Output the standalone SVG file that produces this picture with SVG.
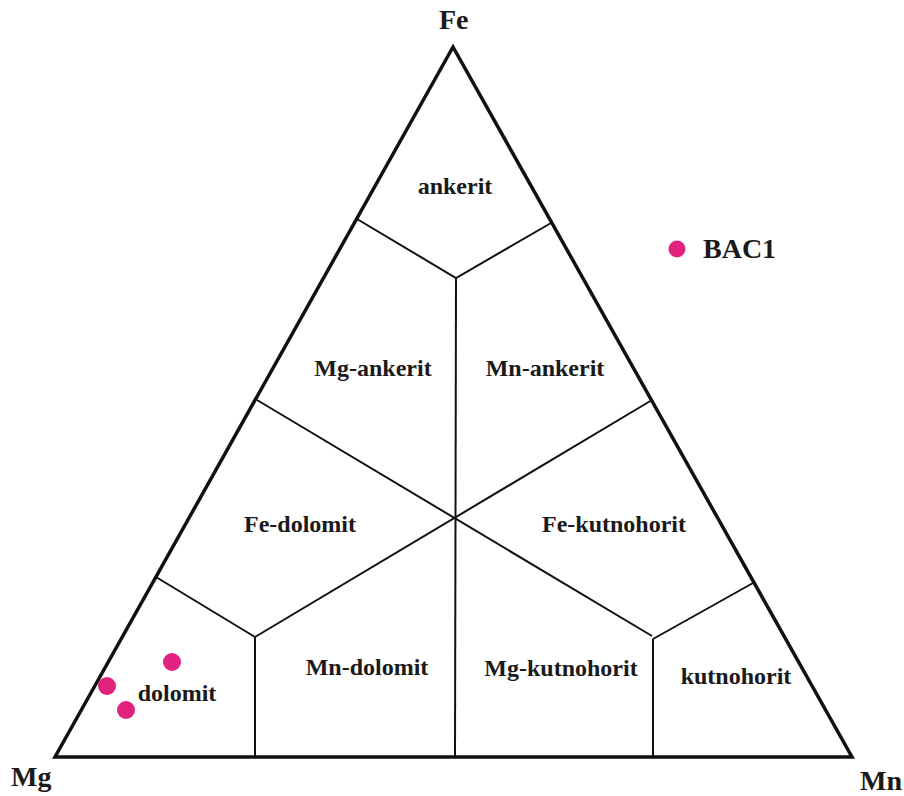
<svg xmlns="http://www.w3.org/2000/svg" width="904" height="796" viewBox="0 0 904 796">
<style>
.lbl{font-family:"Liberation Serif","Times New Roman",serif;font-weight:bold;font-size:24px;fill:#1a1a1a;text-anchor:middle}
.ax{font-family:"Liberation Serif","Times New Roman",serif;font-weight:bold;font-size:28px;fill:#1a1a1a}
.outer{fill:none;stroke:#111;stroke-width:3.5;stroke-linejoin:miter}
.inner{fill:none;stroke:#111;stroke-width:2}
.dot{fill:#e2227f}
</style>
<rect width="904" height="796" fill="#fff"/>
<g id="connectors">
<polygon class="outer" points="453,47 55,757 852,757"/>
<polyline class="inner" points="357,219 456,278 551,223"/>
<line class="inner" x1="456" y1="278" x2="455" y2="757"/>
<line class="inner" x1="257" y1="400" x2="652" y2="636"/>
<line class="inner" x1="652" y1="400" x2="255" y2="637"/>
<line class="inner" x1="156" y1="577" x2="255" y2="637"/>
<line class="inner" x1="255" y1="637" x2="255" y2="757"/>
<line class="inner" x1="753" y1="583" x2="653" y2="639"/>
<line class="inner" x1="653" y1="639" x2="653" y2="757"/>
</g>
<g id="axis-labels">
<text class="ax" x="439" y="29">Fe</text>
<text class="ax" x="11" y="786">Mg</text>
<text class="ax" x="860" y="790">Mn</text>
</g>
<g id="ankerit"><text class="lbl" x="455" y="194">ankerit</text></g>
<g id="mg-ankerit"><text class="lbl" x="373" y="376">Mg-ankerit</text></g>
<g id="mn-ankerit"><text class="lbl" x="545" y="376">Mn-ankerit</text></g>
<g id="fe-dolomit"><text class="lbl" x="300" y="532">Fe-dolomit</text></g>
<g id="fe-kutnohorit"><text class="lbl" x="614" y="532">Fe-kutnohorit</text></g>
<g id="mn-dolomit"><text class="lbl" x="367" y="675">Mn-dolomit</text></g>
<g id="mg-kutnohorit"><text class="lbl" x="561" y="676">Mg-kutnohorit</text></g>
<g id="kutnohorit"><text class="lbl" x="736" y="684">kutnohorit</text></g>
<g id="dolomit"><text class="lbl" x="177" y="701">dolomit</text></g>
<g id="samples">
<circle class="dot" cx="172" cy="662" r="9"/>
<circle class="dot" cx="107" cy="686" r="9"/>
<circle class="dot" cx="126" cy="710" r="9"/>
</g>
<g id="legend">
<circle class="dot" cx="677" cy="249" r="8.5"/>
<text class="ax" x="703" y="258">BAC1</text>
</g>
</svg>
